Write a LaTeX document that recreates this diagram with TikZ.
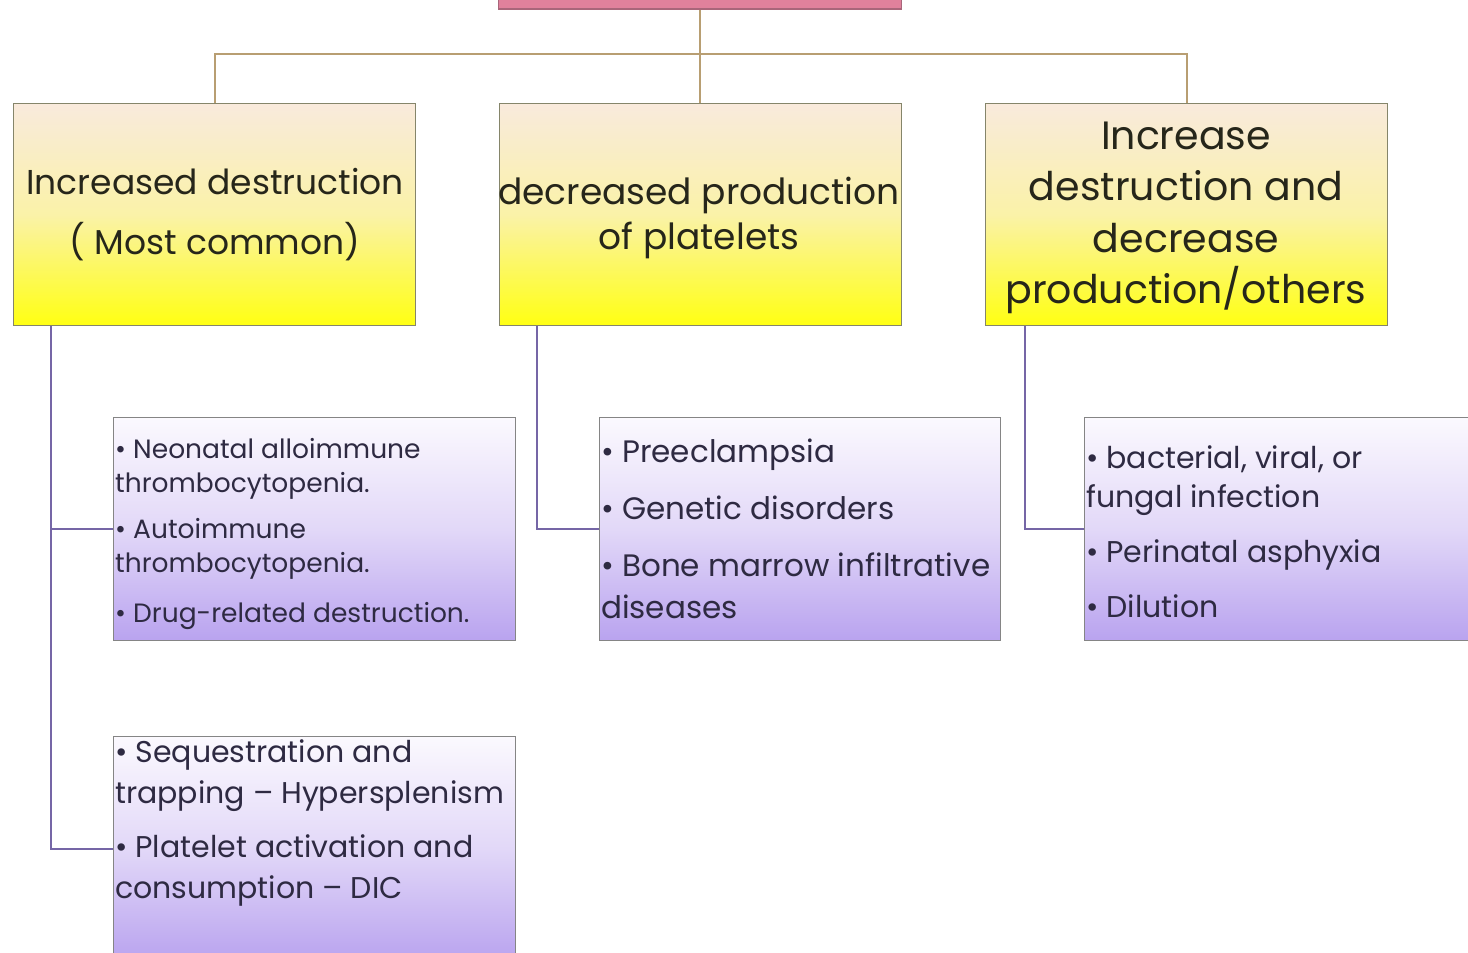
\documentclass[tikz,border=0pt]{standalone}
\usepackage{fontspec}
\setmainfont{Poppins}
\definecolor{rootpink}{HTML}{E0819C}
\definecolor{rootedge}{HTML}{A8667A}
\definecolor{peach}{HTML}{F9EADC}
\definecolor{peachmid}{HTML}{FAF2A8}
\definecolor{yel}{HTML}{FFFF12}
\definecolor{topedge}{HTML}{85856A}
\definecolor{lavtop}{HTML}{FBF9FE}
\definecolor{lavmid}{HTML}{E2D8F8}
\definecolor{lavbot}{HTML}{B9A3EF}
\definecolor{subedge}{HTML}{858585}
\definecolor{tanline}{HTML}{B89E72}
\definecolor{purline}{HTML}{7566A6}
\definecolor{toptext}{HTML}{26261A}
\definecolor{subtext}{HTML}{2E2A42}
\begin{document}
\begin{tikzpicture}[x=1pt,y=-1pt,
  rootbox/.style={draw=rootedge,fill=rootpink,line width=1.5pt,minimum width=403pt,minimum height=18pt,inner sep=0pt},
  topbox/.style={draw=topedge,line width=1.3pt,top color=peach,bottom color=yel,middle color=peachmid,minimum width=402pt,minimum height=222pt,inner sep=0pt,anchor=north west},
  subbox/.style={draw=subedge,line width=1.3pt,top color=lavtop,bottom color=lavbot,middle color=lavmid,minimum height=223pt,inner sep=0pt,anchor=north west},
  toplabel/.style={align=center,text=toptext,inner sep=0pt},
  sublabel/.style={align=left,text=subtext,inner sep=0pt,anchor=north west},
  topline/.style={draw=tanline,line width=2pt},
  subline/.style={draw=purline,line width=1.8pt}]
\useasboundingbox (0,0) rectangle (1468,953);
\fill[white] (0,0) rectangle (1468,953);
% root
\node[rootbox] (root) at (700,0) {};
\coordinate (hub) at (700,54);
% top boxes
\node[topbox] (b1) at (13,103) {};
\node[topbox] (b2) at (499,103) {};
\node[topbox] (b3) at (985,103) {};
\node[toplabel,font=\fontsize{34.5}{60}\selectfont] (t1) at (215,215) {Increased destruction\\( Most common)};
\node[toplabel,font=\fontsize{36}{45}\selectfont] (t2) at (699,218) {decreased production\\of platelets};
\node[toplabel,font=\fontsize{39.5}{51.5}\selectfont] (t3) at (1186,218) {Increase\\destruction and\\decrease\\production/others};
% sub boxes
\node[subbox,minimum width=402pt] (c1) at (113,417) {};
\node[subbox,minimum width=401pt] (c2) at (599,417) {};
\node[subbox,minimum width=400pt] (c3) at (1084,417) {};
\node[subbox,minimum width=402pt,minimum height=224pt] (c4) at (113,736) {};
% connectors
\draw[topline] (root.south) -- (hub) -- (hub |- b2.north);
\draw[topline] (b1.north) -- (b1.north |- hub) -- (b3.north |- hub) -- (b3.north);
\draw[subline] ([xshift=38pt]b1.south west) |- (c1.west);
\draw[subline] ([xshift=38pt]b1.south west) |- (c4.west);
\draw[subline] ([xshift=38pt]b2.south west) |- (c2.west);
\draw[subline] ([xshift=40pt]b3.south west) |- (c3.west);
% sub texts
\node[sublabel,font=\fontsize{26.5}{34}\selectfont] (s1) at (115,438) {\textbullet{} Neonatal alloimmune\\thrombocytopenia.\\[12pt]\textbullet{} Autoimmune\\thrombocytopenia.\\[16pt]\textbullet{} Drug-related destruction.};
\node[sublabel,font=\fontsize{31}{42}\selectfont] (s2) at (601,439) {\textbullet{} Preeclampsia\\[15pt]\textbullet{} Genetic disorders\\[15pt]\textbullet{} Bone marrow infiltrative\\diseases};
\node[sublabel,font=\fontsize{30}{39}\selectfont] (s3) at (1086,445) {\textbullet{} bacterial, viral, or\\fungal infection\\[16pt]\textbullet{} Perinatal asphyxia\\[16pt]\textbullet{} Dilution};
\node[sublabel,font=\fontsize{30}{41}\selectfont] (s4) at (115,739) {\textbullet{} Sequestration and\\trapping -- Hypersplenism\\[13pt]\textbullet{} Platelet activation and\\consumption -- DIC};
\end{tikzpicture}
\end{document}
